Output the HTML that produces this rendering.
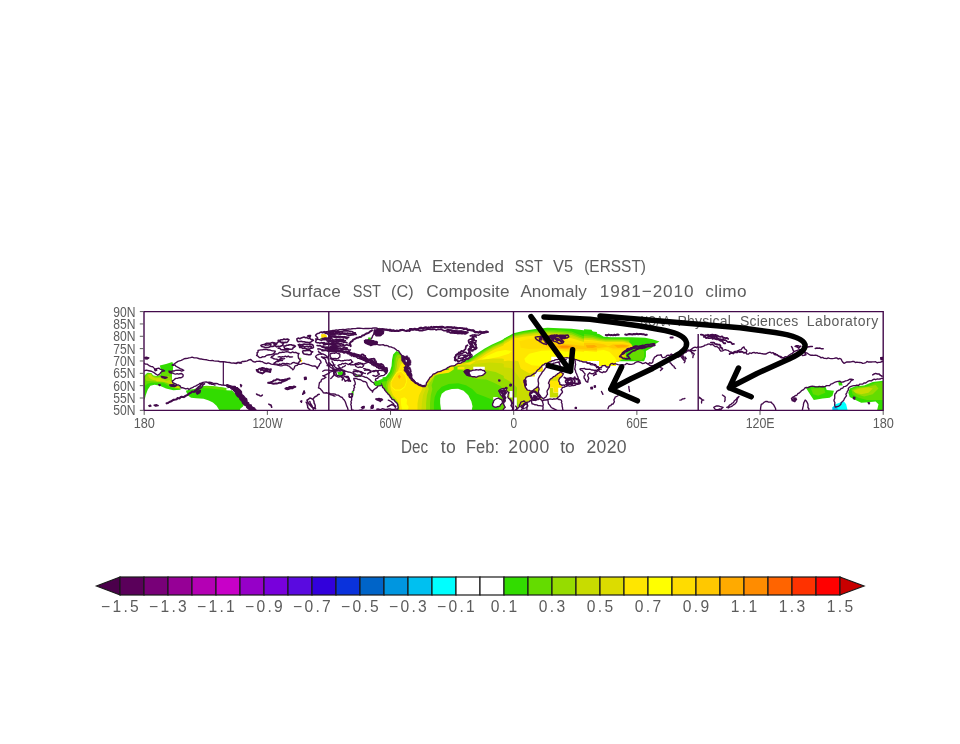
<!DOCTYPE html>
<html lang="en"><head><meta charset="utf-8"><title>NOAA Extended SST V5 (ERSST) composite anomaly</title>
<style>html,body{margin:0;padding:0;background:#fff}svg{display:block}text{font-family:"Liberation Sans",sans-serif;fill:#5c5c5c}</style></head><body>
<svg width="960" height="744" viewBox="0 0 960 744">
<rect width="960" height="744" fill="#fff"/>
<defs><clipPath id="fc"><rect x="144" y="312" width="739" height="98"/></clipPath></defs>
<g clip-path="url(#fc)">
<g transform="translate(140,340) scale(0.1041667)">
<path fill="#32dc00" d="M40,345 L60,325 L75,315 L110,318 L125,340 L160,345 L195,335 L205,300 L190,245 L250,230 L310,210 L320,235 L315,300 L305,345 L310,400 L335,435 L385,445 L390,478 L320,482 L250,465 L190,440 L140,430 L100,440 L75,475 L55,530 L45,570 L40,570 Z"/>
<path fill="#64dc00" d="M40,350 L70,322 L108,320 L125,342 L165,348 L200,340 L215,310 L260,300 L300,310 L305,345 L310,400 L335,435 L385,445 L388,470 L330,465 L280,445 L230,415 L170,410 L110,410 L70,420 L50,440 L40,450Z"/>
<path fill="#96dc00" d="M50,365 L72,328 L105,325 L125,348 L170,355 L230,350 L275,345 L298,360 L305,400 L330,435 L385,447 L385,465 L330,458 L290,435 L240,405 L170,400 L110,395 L60,392Z"/>
<path fill="#c8dc00" d="M75,335 L105,328 L120,352 L150,368 L200,365 L250,390 L285,385 L300,400 L325,435 L380,450 L380,462 L335,455 L300,435 L270,412 L220,400 L160,392 L120,382 L90,365Z"/>
<path fill="#dcdc00" d="M155,385 L190,385 L195,396 L160,398Z M292,395 L305,405 L320,437 L372,452 L372,460 L335,452 L308,430Z"/>
<path fill="#32dc00" d="M440,488 L470,478 L520,470 L560,455 L600,445 L640,440 L700,445 L760,450 L830,460 L880,480 L920,520 L960,560 L960,680 L765,680 L735,630 L700,600 L660,580 L610,565 L540,560 L490,555 L470,540 L450,510Z"/>
<path fill="#64dc00" d="M600,450 L640,442 L700,445 L760,452 L825,462 L830,485 L780,478 L720,470 L660,462 L620,462Z"/>
<path fill="#fff" d="M828,462 L875,470 L878,485 L830,482Z"/>
</g>

<g transform="translate(235,308) scale(0.143885)">
<path fill="#32dc00" d="M0,610 L25,615 L50,640 L70,660 L55,685 L30,705 L0,705Z"/>
<path fill="#ffdc00" d="M598,182 L625,180 L640,195 L635,208 L600,206Z"/>
<path fill="#64dc00" d="M588,208 L610,210 L600,225Z M448,342 L462,350 L458,362Z"/>
<path fill="#ffdc00" d="M452,358 L468,362 L462,378 L450,372Z"/>
</g>

<clipPath id="lsc"><rect x="360" y="300" width="74" height="120"/></clipPath>
<path fill="#32dc00" fill-rule="evenodd" transform="translate(380,325) scale(0.156250)" d="M105,167 L84,188 L77,222 L74,263 L63,298 L39,329 L12,346 L-23,360 L-40,367 L-40,384 L5,387 L32,415 L53,449 L87,477 L111,504 L118,552 L860,552 L860,49 L860,55 L817,77 L771,101 L717,124 L670,151 L616,186 L562,224 L400,235 L200,210Z M385,470 L395,440 L420,420 L460,410 L500,408 L535,420 L565,450 L585,490 L592,520 L585,556 L392,556 L385,500Z"/>
<path fill="#32dc00" fill-rule="evenodd" transform="translate(505,320) scale(0.120963)" d="M-10,155 L70,110 L150,90 L250,75 L350,65 L450,68 L550,72 L650,85 L760,100 L760,500 L300,500 L300,760 L-10,760Z"/>
<path fill="#32dc00" fill-rule="evenodd" transform="translate(585,320) scale(0.093747)" d="M-10,100 L70,105 L90,140 L150,150 L200,180 L280,185 L500,185 L640,190 L720,205 L795,230 L750,255 L720,290 L650,330 L650,390 L630,440 L330,440 L330,490 L150,490 L150,432 L-10,432Z"/>
<path fill="#32dc00" fill-rule="evenodd" transform="translate(775,308) scale(0.143740)" d="M215,555 L240,545 L350,545 L360,570 L410,575 L400,610 L380,625 L330,630 L270,640 L250,610 L230,580Z M440,515 L465,515 L470,540 L445,540Z"/>
<path fill="#32dc00" fill-rule="evenodd" transform="translate(775,308) scale(0.143740)" d="M520,560 L560,545 L620,540 L680,515 L760,505 L760,712 L710,712 L720,670 L700,650 L650,655 L600,660 L560,640 L520,620 L510,590Z"/>
<path fill="#64dc00" fill-rule="evenodd" transform="translate(380,325) scale(0.156250)" d="M108,177 L93,202 L89,236 L84,270 L74,305 L53,336 L32,353 L12,367 L19,394 L39,422 L60,453 L91,477 L113,504 L120,552 L345,552 L345,500 L350,460 L365,425 L395,395 L440,378 L500,372 L550,385 L590,410 L620,440 L660,455 L700,470 L730,480 L760,500 L760,552 L860,552 L860,55 L863,61 L820,83 L774,107 L720,130 L673,157 L619,192 L565,230 L400,235 L200,210Z"/>
<path fill="#64dc00" fill-rule="evenodd" transform="translate(505,320) scale(0.120963)" d="M-10,165 L70,122 L150,102 L250,88 L350,80 L450,85 L550,95 L600,115 L650,135 L700,150 L760,155 L760,500 L300,500 L300,760 L-10,760Z"/>
<path fill="#64dc00" fill-rule="evenodd" transform="translate(585,320) scale(0.093747)" d="M-10,150 L80,160 L150,185 L220,198 L400,200 L480,210 L440,330 L360,440 L330,440 L330,490 L150,490 L150,432 L-10,432Z M500,320 L580,300 L630,330 L630,400 L600,430 L520,430 L470,400Z"/>
<path fill="#64dc00" fill-rule="evenodd" transform="translate(775,308) scale(0.143740)" d="M250,560 L340,555 L350,590 L300,610 L265,600Z"/>
<path fill="#64dc00" fill-rule="evenodd" transform="translate(775,308) scale(0.143740)" d="M530,565 L570,550 L640,545 L700,520 L760,515 L760,640 L700,640 L640,640 L580,625 L540,600Z"/>
<path fill="#96dc00" fill-rule="evenodd" transform="translate(380,325) scale(0.156250)" d="M113,191 L101,215 L98,250 L93,284 L84,312 L67,339 L46,360 L39,387 L46,422 L63,453 L94,477 L116,504 L122,552 L320,552 L320,500 L325,450 L335,410 L330,385 L350,330 L430,280 L490,265 L530,290 L570,330 L620,345 L680,348 L730,370 L770,390 L800,420 L800,552 L860,552 L860,61 L866,67 L823,89 L777,113 L723,136 L676,163 L622,198 L568,236 L400,235 L200,210Z"/>
<path fill="#96dc00" fill-rule="evenodd" transform="translate(505,320) scale(0.120963)" d="M-10,172 L70,130 L150,111 L250,98 L350,92 L450,98 L550,110 L600,130 L650,150 L700,162 L760,166 L760,500 L300,500 L300,760 L-10,760 Z"/>
<path fill="#96dc00" fill-rule="evenodd" transform="translate(505,320) scale(0.120963)" d="M100,600 L230,590 L240,700 L100,700Z"/>
<path fill="#96dc00" fill-rule="evenodd" transform="translate(585,320) scale(0.093747)" d="M-10,170 L80,178 L150,198 L220,208 L400,210 L470,222 L430,330 L360,440 L330,440 L330,490 L150,490 L150,432 L-10,432Z"/>
<path fill="#96dc00" fill-rule="evenodd" transform="translate(775,308) scale(0.143740)" d="M535,570 L580,555 L650,548 L700,535 L720,560 L680,600 L620,615 L570,600Z"/>
<path fill="#c8dc00" fill-rule="evenodd" transform="translate(380,325) scale(0.156250)" d="M120,212 L111,236 L107,270 L100,298 L89,322 L74,346 L56,367 L50,394 L53,422 L70,453 L98,477 L118,504 L123,552 L295,552 L295,500 L300,450 L312,410 L305,388 L350,325 L430,275 L500,262 L540,280 L600,285 L680,290 L740,300 L800,330 L860,345 L860,67 L869,73 L826,95 L780,119 L726,142 L679,169 L625,204 L571,242 L400,235 L200,210Z"/>
<path fill="#c8dc00" fill-rule="evenodd" transform="translate(505,320) scale(0.120963)" d="M-10,180 L70,138 L150,120 L250,108 L350,103 L450,110 L550,125 L600,143 L650,162 L700,172 L760,176 L760,500 L300,500 L300,700 L110,700 L95,640 L100,560 L60,520 L-10,480Z"/>
<path fill="#c8dc00" fill-rule="evenodd" transform="translate(505,320) scale(0.120963)" d="M370,560 L400,560 L400,600 L440,600 L440,640 L370,640Z"/>
<path fill="#c8dc00" fill-rule="evenodd" transform="translate(585,320) scale(0.093747)" d="M-10,190 L80,196 L150,210 L220,218 L400,220 L470,235 L520,290 L430,340 L440,400 L360,440 L330,440 L330,490 L150,490 L150,432 L-10,432Z"/>
<path fill="#c8dc00" fill-rule="evenodd" transform="translate(775,308) scale(0.143740)" d="M545,575 L590,560 L650,552 L680,560 L650,590 L600,600 L560,590Z"/>
<path fill="#dcdc00" fill-rule="evenodd" transform="translate(380,325) scale(0.156250)" d="M127,233 L120,257 L113,284 L105,305 L93,325 L77,353 L63,374 L60,401 L63,425 L77,453 L101,477 L120,504 L125,552 L265,552 L268,500 L275,450 L290,415 L290,392 L350,320 L430,270 L510,258 L600,250 L700,240 L780,245 L860,275 L860,73 L872,79 L829,101 L783,125 L729,148 L682,175 L628,210 L574,248 L400,235 L200,210Z"/>
<path fill="#dcdc00" fill-rule="evenodd" transform="translate(505,320) scale(0.120963)" d="M-10,190 L70,146 L150,129 L250,118 L350,114 L450,122 L550,138 L600,155 L650,172 L700,182 L760,186 L760,500 L300,500 L300,560 L200,600 L150,560 L120,480 L60,400 L-10,390Z"/>
<path fill="#dcdc00" fill-rule="evenodd" transform="translate(585,320) scale(0.093747)" d="M-10,200 L80,206 L150,220 L220,226 L400,228 L480,245 L510,285 L430,335 L420,395 L360,440 L330,440 L330,490 L150,490 L150,432 L-10,432Z"/>
<path fill="#ffe600" fill-rule="evenodd" transform="translate(380,325) scale(0.156250)" d="M135,250 L125,270 L116,291 L105,312 L91,336 L74,360 L67,387 L70,415 L84,449 L108,477 L123,504 L129,552 L240,552 L240,500 L250,450 L265,420 L275,395 L350,315 L430,265 L520,255 L600,230 L700,215 L780,215 L860,235 L860,79 L875,86 L832,108 L786,132 L732,155 L685,182 L631,217 L577,255 L400,235 L200,210Z"/>
<path fill="#ffe600" fill-rule="evenodd" transform="translate(380,325) scale(0.156250)" d="M330,300 L345,300 L345,288 L440,288 L440,268 L472,268 L472,285 L440,306 L345,320 L330,320Z M496,268 L540,268 L540,284 L496,284Z"/>
<path fill="#ffe600" fill-rule="evenodd" transform="translate(505,320) scale(0.120963)" d="M-10,200 L70,155 L150,138 L250,128 L350,125 L450,134 L550,150 L600,166 L650,182 L700,192 L760,196 L760,500 L300,500 L300,420 L200,440 L130,400 L110,340 L60,330 L-10,340Z M370,470 L470,470 L470,560 L440,560 L440,600 L400,600 L400,560 L370,560Z"/>
<path fill="#ffe600" fill-rule="evenodd" transform="translate(585,320) scale(0.093747)" d="M-10,212 L80,216 L150,228 L220,234 L400,236 L490,255 L500,285 L420,330 L380,395 L360,440 L330,440 L330,490 L150,490 L150,432 L-10,432Z"/>
<g clip-path="url(#lsc)"><path fill="#ffff00" fill-rule="evenodd" transform="translate(370,335) scale(0.107527)" d="M215,395 L250,345 L292,335 L335,375 L345,430 L325,485 L285,515 L232,515 L195,482 L192,440Z M285,590 L320,580 L345,600 L340,640 L360,670 L350,700 L300,700 L290,650Z"/></g>
<path fill="#ffff00" fill-rule="evenodd" transform="translate(380,325) scale(0.156250)" d="M647,221 L694,194 L748,169 L802,160 L845,166 L825,184 L763,203 L694,217Z"/>
<path fill="#ffff00" fill-rule="evenodd" transform="translate(505,320) scale(0.120963)" d="M160,320 L200,280 L300,255 L420,250 L500,262 L600,258 L700,268 L760,272 L760,340 L380,340 L380,370 L300,380 L220,375 L170,350Z"/>
<path fill="#ffff00" fill-rule="evenodd" transform="translate(585,320) scale(0.093747)" d="M-10,330 L100,330 L200,320 L260,340 L320,400 L340,440 L330,440 L330,490 L150,490 L150,432 L-10,432Z"/>
<g clip-path="url(#lsc)"><path fill="#ffdc00" fill-rule="evenodd" transform="translate(370,335) scale(0.107527)" d="M220,400 L252,352 L290,342 L328,380 L338,430 L320,480 L282,508 L235,508 L200,478 L198,440Z"/></g>
<path fill="#ffdc00" fill-rule="evenodd" transform="translate(505,320) scale(0.120963)" d="M120,175 L200,158 L300,150 L400,152 L500,165 L600,185 L700,205 L760,210 L760,262 L700,258 L600,250 L500,255 L420,240 L300,235 L200,240 L130,230Z"/>
<path fill="#ffdc00" fill-rule="evenodd" transform="translate(585,320) scale(0.093747)" d="M-10,225 L100,228 L200,240 L300,240 L420,244 L500,265 L470,300 L400,320 L300,322 L240,300 L160,310 L60,320 L-10,318Z"/>
<path fill="#ffc800" fill-rule="evenodd" transform="translate(505,320) scale(0.120963)" d="M330,200 L420,192 L520,198 L620,210 L700,220 L760,225 L760,250 L700,245 L600,240 L500,245 L420,232 L350,225Z"/>
<path fill="#ffc800" fill-rule="evenodd" transform="translate(585,320) scale(0.093747)" d="M-10,245 L100,245 L200,258 L250,280 L300,258 L420,258 L480,272 L440,300 L380,305 L300,305 L240,285 L150,300 L60,305 L-10,300Z"/>
<g clip-path="url(#lsc)"><path fill="#ffaa00" fill-rule="evenodd" transform="translate(370,335) scale(0.107527)" d="M258,385 L272,368 L288,388 L272,410Z"/></g>
<path fill="#ffaa00" fill-rule="evenodd" transform="translate(505,320) scale(0.120963)" d="M420,215 L480,205 L560,212 L580,225 L520,238 L450,236Z"/>
<path fill="#ffaa00" fill-rule="evenodd" transform="translate(585,320) scale(0.093747)" d="M10,270 L100,268 L130,285 L80,298 L20,295Z M310,270 L400,265 L470,275 L430,292 L350,295Z"/>
<path fill="#ff8c00" fill-rule="evenodd" transform="translate(505,320) scale(0.120963)" d="M450,218 L500,212 L545,218 L520,230 L470,230Z"/>
<path fill="#00ffff" fill-rule="evenodd" transform="translate(775,308) scale(0.143740)" d="M400,690 L420,670 L450,660 L480,650 L495,670 L505,712 L400,712Z"/>
<path fill="#00c0f0" fill-rule="evenodd" transform="translate(775,308) scale(0.143740)" d="M400,690 L425,680 L440,712 L400,712Z"/>
<g fill="none" stroke="#430a4b" stroke-width="1.1" stroke-linejoin="round" stroke-linecap="round">
<path transform="translate(325,308) scale(0.143885)" fill="#fff" fill-rule="evenodd" stroke-width="9.38" d="M185,712 L185,702 L183,691 L183,681 L179,671 L183,660 L180,650 L185,641 L185,630 L183,619 L188,610 L190,600 L191,590 L193,580 L201,571 L200,560 L206,551 L201,539 L210,531 L210,520 L207,510 L202,500 L200,490 L210,490 L220,491 L230,496 L240,497 L250,500 L259,506 L269,511 L281,512 L290,520 L293,531 L297,542 L302,552 L310,560 L316,569 L326,574 L330,585 L334,574 L341,567 L350,560 L362,552 L370,540 L379,534 L390,530 L397,539 L400,552 L410,559 L415,570 L423,580 L432,590 L440,600 L449,606 L453,617 L460,625 L466,635 L479,638 L485,648 L497,658 L505,670 L506,680 L509,691 L505,702 L505,712 L495,709 L485,711 L475,712 L465,709 L455,715 L445,711 L435,713 L425,711 L415,715 L405,710 L395,715 L385,715 L375,710 L365,708 L355,713 L345,713 L335,714 L325,714 L315,711 L305,715 L295,715 L285,712 L275,715 L265,711 L255,709 L245,710 L235,712 L225,713 L215,713 L205,716 L195,710Z"/>
<path transform="translate(325,308) scale(0.143885)" fill="#fff" fill-rule="evenodd" stroke-width="9.38" d="M320,360 L328,366 L336,372 L342,381 L352,384 L360,390 L370,395 L380,401 L391,403 L400,410 L407,416 L414,422 L421,428 L430,432 L431,444 L425,455 L417,461 L410,468 L400,470 L389,471 L380,475 L370,480 L366,489 L354,491 L350,500 L355,508 L364,511 L372,516 L380,520 L388,526 L392,535 L382,541 L371,538 L360,540 L351,536 L345,528 L340,520 L331,516 L322,511 L316,502 L308,496 L300,490 L291,483 L280,482 L270,477 L260,474 L250,470 L240,467 L230,466 L220,466 L211,458 L200,460 L191,452 L181,449 L171,446 L159,445 L150,440 L139,440 L130,437 L119,436 L110,430 L107,421 L99,415 L97,406 L90,400 L100,394 L112,393 L120,385 L130,389 L140,384 L150,386 L160,393 L170,391 L180,396 L190,393 L200,395 L210,390 L220,394 L230,393 L240,388 L250,385 L260,386 L270,390 L280,385 L289,382 L294,372 L303,368 L310,362Z"/>
<path transform="translate(380,325) scale(0.156250)" fill="#fff" fill-rule="evenodd" stroke-width="8.64" d="M-35,34 L-23,35 L-11,31 L0,28 L10,31 L20,33 L30,29 L40,33 L50,33 L60,37 L70,38 L80,37 L90,34 L100,38 L110,36 L121,38 L130,30 L141,31 L151,31 L160,37 L170,34 L180,35 L190,31 L200,30 L211,33 L220,26 L230,25 L240,25 L250,22 L260,24 L270,21 L280,17 L290,20 L300,15 L310,15 L320,18 L330,15 L340,18 L350,13 L360,16 L370,10 L380,12 L390,9 L400,9 L410,15 L420,17 L430,12 L440,12 L450,15 L460,12 L470,18 L480,16 L490,15 L500,20 L510,20 L520,20 L530,22 L541,21 L550,27 L560,28 L570,30 L580,32 L591,33 L599,42 L609,45 L620,45 L630,47 L640,49 L650,46 L660,44 L670,42 L680,46 L690,45 L680,48 L670,51 L659,50 L649,54 L640,60 L631,66 L619,63 L611,73 L600,71 L590,75 L596,87 L600,100 L593,106 L587,113 L585,122 L580,130 L586,137 L597,137 L602,146 L610,150 L601,158 L590,160 L581,166 L570,170 L578,176 L578,186 L588,191 L590,200 L581,207 L571,213 L560,215 L552,219 L546,226 L540,233 L530,235 L521,242 L511,245 L500,246 L490,250 L481,258 L471,262 L460,262 L449,265 L440,270 L430,275 L421,283 L411,286 L400,290 L391,296 L381,298 L370,300 L360,306 L351,312 L340,315 L335,323 L328,330 L320,335 L316,344 L310,351 L305,360 L297,371 L295,385 L285,386 L275,390 L265,387 L254,387 L245,380 L234,374 L225,365 L219,356 L211,349 L205,340 L200,328 L190,320 L186,311 L176,308 L170,300 L166,290 L162,281 L160,270 L166,258 L170,245 L161,239 L155,229 L150,220 L148,206 L140,195 L132,186 L125,175 L119,165 L108,162 L100,155 L91,148 L80,145 L70,140 L59,140 L50,133 L40,130 L30,132 L20,126 L10,127 L0,128 L-10,127 L-20,123 L-30,125 L-40,125 L-51,124 L-60,131 L-67,124 L-77,121 L-84,114 L-90,105 L-99,101 L-90,95 L-78,99 L-71,89 L-60,90 L-53,84 L-49,76 L-46,67 L-40,60 L-37,47Z"/>
<path transform="translate(440,325) scale(0.120963)" fill="#fff" fill-rule="evenodd" stroke="none" d="M275,345 L370,345 L370,378 L275,378Z M440,595 L480,595 L480,625 L440,625Z M575,545 L600,545 L600,600 L575,600Z M609,600 L635,600 L635,712 L609,712Z"/>
<path transform="translate(440,325) scale(0.120963)" fill="#fff" fill-rule="evenodd" stroke-width="11.16" d="M200,385 L208,380 L216,374 L225,370 L239,372 L250,380 L260,379 L270,374 L280,373 L290,372 L300,370 L310,371 L320,372 L330,368 L342,370 L353,376 L365,375 L369,385 L378,392 L370,402 L360,410 L351,416 L341,419 L330,420 L319,422 L310,427 L300,432 L290,428 L280,427 L270,428 L260,424 L250,422 L240,420 L231,418 L222,415 L215,408 L212,399 L206,392Z"/>
<path transform="translate(440,325) scale(0.120963)" fill="#fff" fill-rule="evenodd" stroke-width="11.16" d="M485,545 L492,537 L501,533 L510,529 L520,525 L532,527 L543,522 L555,520 L548,532 L545,545 L555,547 L562,555 L570,560 L564,569 L563,580 L560,590 L562,599 L567,607 L576,612 L580,620 L588,625 L588,636 L597,641 L600,650 L606,659 L603,670 L607,680 L602,690 L600,701 L600,712 L590,708 L580,714 L570,715 L560,715 L550,708 L540,715 L530,715 L520,712 L522,702 L527,694 L532,686 L540,680 L534,671 L528,661 L525,650 L529,639 L538,632 L540,620 L531,615 L528,605 L520,600 L515,590 L507,583 L500,575 L496,565 L492,554Z M435,650 L441,640 L443,629 L450,620 L459,614 L469,608 L480,605 L490,608 L499,615 L510,615 L512,625 L517,634 L515,645 L508,653 L500,660 L495,670 L485,674 L474,675 L465,680 L452,679 L440,672 L434,662Z"/>
<path transform="translate(510,355) scale(0.093747)" fill="#fff" fill-rule="evenodd" stroke="none" d="M150,270 L170,240 L210,225 L250,205 L280,180 L310,150 L340,115 L380,90 L420,75 L440,70 L440,20 L500,20 L520,45 L570,35 L620,30 L680,40 L720,55 L760,65 L950,65 L950,600 L60,600 L90,560 L120,545 L150,520 L180,505 L215,490 L225,450 L215,415 L235,395 L265,390 L285,405 L300,430 L320,450 L320,470 L345,490 L400,475 L480,470 L500,465 L520,445 L540,420 L560,395 L545,370 L560,345 L600,335 L650,330 L700,320 L730,300 L690,305 L590,318 L555,325 L530,310 L520,280 L530,250 L555,225 L570,200 L545,180 L520,195 L490,215 L455,240 L425,265 L410,300 L420,330 L410,360 L395,390 L400,420 L385,445 L355,470 L335,450 L320,430 L305,400 L310,370 L300,340 L275,355 L250,375 L220,385 L190,375 L165,350 L155,310Z M175,230 L265,230 L265,180 L350,180 L350,120 L300,160 L250,205 L200,228Z"/>
<path transform="translate(325,308) scale(0.143885)" fill="#32dc00" fill-rule="evenodd" stroke="none" d="M340,510 L385,505 L392,535 L350,542Z M85,445 L125,440 L130,465 L95,470Z M400,482 L428,480 L430,508 L405,510Z M212,466 L250,466 L250,480 L212,480Z M186,578 L198,578 L198,608 L186,608Z M365,140 L380,138 L380,160 L368,160Z M300,205 L318,205 L318,222 L302,222Z"/>
<path transform="translate(322,322) scale(0.083333)" fill="none" fill-rule="evenodd" stroke-width="16.20" d="M0,130 L18,123 L38,121 L56,115 L75,112 L94,110 L113,107 L131,100 L150,100 L170,94 L190,99 L210,92 L230,92 L253,88 L277,91 L300,85 L320,84 L340,85 L360,81 L380,80 L403,79 L426,74 L450,75 L473,77 L497,80 L520,78 L540,77 L560,78 L580,77 L600,75 L625,70 L650,72 L675,79 L700,82 L720,86 L740,87 L760,92 L781,92 L800,100 L825,107 L850,108 L875,106 L900,105 L920,103 L940,101 L960,95"/>
<path transform="translate(322,322) scale(0.083333)" fill="none" fill-rule="evenodd" stroke-width="19.20" d="M80,125 L96,120 L113,117 L130,119 L146,114 L163,111 L180,115 L197,112 L215,117 L232,114 L249,112 L265,105 L283,107 L300,105 L317,107 L334,110 L351,113 L367,118 L382,131 L400,130 M100,150 L117,153 L134,151 L150,150 L166,142 L183,142 L200,145 L217,145 L234,145 L250,140 L265,148 L283,143 L298,153 L314,158 L330,160 L346,158 L362,152 L378,154 L393,147 L410,150 M90,175 L109,179 L127,178 L145,173 L163,169 L182,176 L200,170 L217,173 L234,179 L251,181 L269,179 L286,180 L303,184 L320,185 M0,200 L17,198 L35,193 L52,194 L70,195 L85,203 L103,198 L119,202 L134,212 L150,215 L168,211 L187,212 L205,210 L223,206 L242,213 L260,205 M120,240 L137,236 L154,238 L171,234 L189,239 L206,234 L223,234 L240,235 L259,243 L281,243 L300,250 M0,250 L20,254 L39,261 L60,260 L81,259 L101,261 L120,270 L136,265 L152,270 L168,267 L184,260 L200,262 M100,290 L117,287 L134,285 L151,287 L168,282 L186,289 L203,290 L220,285 L238,289 L255,285 L272,286 L288,274 L306,275 L323,282 L340,275 M0,300 L16,305 L32,303 L47,311 L64,309 L80,310 L97,313 L113,306 L130,304 L147,306 L163,301 L180,305 M120,330 L136,328 L153,334 L169,326 L185,322 L201,321 L217,322 L234,329 L250,325 L268,325 L286,326 L305,326 L321,339 L340,335 M0,345 L19,343 L37,339 L56,336 L75,340 L93,338 L110,342 L126,351 L144,348 L160,355 L177,349 L194,354 L211,350 L228,359 L245,348 L262,352 L279,355 L296,350 L313,356 L330,350"/>
<path transform="translate(322,322) scale(0.083333)" fill="none" fill-rule="evenodd" stroke-width="21.60" d="M90,135 L105,129 L122,136 L137,134 L153,137 L168,127 L184,126 L200,128 L215,133 L230,133 L245,130 L260,137 L275,134 L290,141 L306,133 L320,140 L336,136 L352,146 L368,138 L384,137 L400,140 M85,160 L99,169 L114,172 L132,170 L145,181 L160,185 L176,186 L192,178 L208,184 L224,176 L240,180 L256,183 L272,184 L286,191 L300,200 M60,225 L75,232 L90,224 L105,232 L120,224 L135,227 L150,230 L165,228 L180,225 L194,220 L209,226 L223,227 L237,221 L251,219 L266,230 L280,225 M20,275 L35,272 L49,265 L65,266 L79,260 L96,265 L110,258 L124,249 L140,252 L154,259 L171,251 L185,256 L201,254 L215,267 L231,260 L245,268 L260,270 M40,320 L55,314 L70,319 L85,322 L100,319 L115,318 L130,318 L145,317 L160,318 L174,319 L188,311 L202,316 L216,312 L230,320 L244,321 L258,308 L272,308 L286,315 L300,312"/>
<path transform="translate(322,322) scale(0.083333)" fill="none" fill-rule="evenodd" stroke-width="24.00" d="M600,100 L586,109 L572,118 L560,130 L544,135 L528,141 L514,150 L500,160 L483,162 L472,177 L455,179 L440,185 L422,188 L406,197 L390,205 L374,212 L366,228 L350,235 L340,248 L330,260 L340,274 L345,290"/>
<path transform="translate(322,322) scale(0.083333)" fill="#430a4b" fill-rule="evenodd" stroke-width="16.20" d="M630,100 L644,101 L658,101 L672,97 L686,94 L700,95 L715,96 L726,106 L740,110 L738,125 L735,140 L722,147 L712,157 L700,165 L683,163 L667,167 L650,165 L639,151 L625,140 L629,120Z M510,225 L527,221 L543,219 L560,215 L575,219 L590,218 L605,223 L620,225 L634,232 L651,233 L665,240 L660,262 L640,263 L620,268 L604,274 L590,282 L574,273 L556,270 L540,262 L524,256 L512,245Z"/>
<path transform="translate(322,322) scale(0.083333)" fill="none" fill-rule="evenodd" stroke-width="31.20" stroke-dasharray="40 6 25 5" d="M80,335 L92,334 L105,333 L116,342 L129,335 L140,343 L152,342 L165,339 L176,347 L189,342 L200,350 L213,351 L227,348 L240,351 L252,358 L264,366 L279,358 L292,362 L304,369 L316,376 L330,372 L343,377 L356,379 L367,390 L383,382 L393,397 L408,393 L420,400 L434,400 L447,405 L458,413 L470,420 L481,429 L497,426 L507,436 L520,440 L531,447 L545,448 L556,456 L570,454 L580,465 L596,465 L608,473 L620,482 L632,492 L647,496 L660,505 L675,511 L686,523 L700,530 L714,538 L728,544 L740,555 L751,567 L765,574 L780,580"/>
<path transform="translate(322,322) scale(0.083333)" fill="none" fill-rule="evenodd" stroke-width="15.60" d="M330,395 L344,396 L354,409 L370,404 L381,414 L396,412 L408,418 L420,425 L429,435 L444,432 L454,442 L466,445 L477,449 L489,455 L500,460 L513,462 L521,474 L536,470 L547,477 L559,480 L570,487 L580,495 L592,501 L601,513 L616,514 L629,518 L640,526 L650,535 L660,547 L677,543 L687,555 L700,560 M300,360 L313,362 L325,368 L338,367 L349,375 L363,376 L375,380 L386,387 L400,385 L411,390 L424,389 L436,392 L444,406 L457,404 L470,405 L480,412"/>
<path transform="translate(322,322) scale(0.083333)" fill="none" fill-rule="evenodd" stroke-width="16.20" d="M100,380 L112,378 L124,375 L135,370 L149,376 L160,370 L173,368 L185,375 L197,381 L210,380 L216,393 L213,407 L215,420 L203,426 L194,437 L180,440 L168,441 L156,438 L144,440 L132,438 L120,440 L110,432 L104,421 L100,410 L96,395Z M100,440 L112,444 L123,452 L136,453 L147,459 L160,460 L173,459 L185,464 L198,458 L210,460 L222,465 L235,466 L248,464 L260,465 L272,459 L285,460 L298,458 L311,457 L325,461 L337,453 L350,455 L357,470 L370,480 L355,483 L345,497 L330,500 M400,500 L412,497 L424,496 L435,489 L448,491 L460,490 L468,501 L482,502 L489,513 L500,520 L493,535 L480,545 L468,543 L456,539 L444,545 L432,546 L420,540 L407,533 L400,520Z M120,470 L125,483 L134,493 L139,506 L140,520 L150,530 L157,543 L171,549 L180,560 L192,557 L204,557 L215,550 L228,553 L240,550 L248,540 L261,536 L273,531 L280,520 M500,560 L513,559 L524,567 L536,570 L549,569 L560,575 L574,578 L585,590 L600,590 M620,585 L634,589 L646,580 L660,585 L674,586 L687,578 L700,580 L712,583 L725,579 L736,585 L748,590 L760,590 M0,420 L9,428 L18,437 L32,439 L40,450 L46,462 L47,476 L54,488 L60,500 L70,510 L81,519 L87,533 L100,540 L110,549 L123,552 L128,566 L141,571 L150,580 L164,581 L178,581 L192,585 L206,586 L220,590"/>
<path transform="translate(325,308) scale(0.143885)" fill="none" fill-rule="evenodd" stroke-width="16.68" d="M330,375 L338,380 L345,386 L353,391 L364,393 L370,400 L380,402 L387,409 L395,413 L401,422 L410,425 L414,434 L419,442 L425,450"/>
<path transform="translate(325,308) scale(0.143885)" fill="none" fill-rule="evenodd" stroke-width="9.38" d="M60,430 L70,426 L80,426 L90,424 L100,420 L106,427 L116,428 L123,434 L130,440 L129,451 L125,461 L120,470 L110,472 L101,479 L90,480 L83,475 L74,471 L67,466 L60,460 L60,450 L62,440Z M120,480 L130,479 L140,475 L150,475 L160,475 L167,487 L170,500 L159,501 L149,505 L140,510 L137,501 L132,494 L126,487Z M25,590 L36,595 L48,597 L60,598 L70,599 L80,605 L90,605 L100,611 L109,618 L120,622 L126,632 L134,640 L140,650 L144,660 L147,670 L150,680 L156,692 L160,705 M25,380 L35,385 L40,395 L50,400 L54,408 L58,417 L64,423 L70,430 L67,440 L64,450 L65,461 L60,470 L53,476 L47,484 L40,490 M200,430 L210,431 L220,433 L230,438 L240,440 L251,442 L260,447 L270,452 L280,455 M355,635 L365,631 L375,628 L388,631 L400,638 L390,642 L380,645 L367,641Z M440,640 L448,644 L456,648 L463,654 L470,660 L477,666 L479,676 L483,684 L490,690 M360,703 L369,702 L379,704 L388,706 L397,700 L407,701 L416,705 L425,705 L435,704 L444,701 L453,702 L463,705 L472,705 L481,705 L491,701 L500,703"/>
<path transform="translate(325,308) scale(0.143885)" fill="#430a4b" fill-rule="evenodd" stroke-width="9.38" d="M320,685 L330,685 L330,697 L320,697Z M260,688 L270,684 L272,694 L262,698Z M160,498 L170,498 L170,508 L160,508Z"/>
<path transform="translate(380,325) scale(0.156250)" fill="none" fill-rule="evenodd" stroke-width="10.24" d="M190,25 L200,24 L210,29 L220,30 L230,31 L240,30 L250,36 L260,35 L270,36 L280,33 L290,32 L300,29 L310,26 L320,28 L330,28 L340,29 L350,26 L360,32 L370,28 L380,29 L390,28 L400,32 L410,37 L420,36 L430,38 L440,37 L450,34 L460,37 L470,40 L480,41 L490,38 L500,46 L510,42 L520,41 L530,47 L540,45 M430,45 L440,43 L450,51 L460,49 L470,51 L480,51 L490,53 L500,55 L510,52 L520,50 L530,55 L540,50 L550,53 L560,50"/>
<path transform="translate(380,325) scale(0.156250)" fill="none" fill-rule="evenodd" stroke-width="11.52" stroke-dasharray="30 5 18 4" d="M600,80 L590,84 L591,98 L586,106 L575,110 L575,121 L588,123 L594,130 L595,140 L586,143 L581,152 L570,151 L565,160 L572,166 L568,177 L578,182 L580,190 L571,193 L560,193 L553,199 L545,205 L536,206 L531,213 L530,224 L520,225 M560,130 L551,135 L549,144 L547,154 L540,160 L534,168 L522,166 L515,174 L505,176 L500,185 L492,189 L486,194 L484,203 L480,210 L483,218 L489,223 L497,227 L500,235 M590,105 L593,114 L604,113 L607,123 L615,125"/>
<path transform="translate(380,325) scale(0.156250)" fill="none" fill-rule="evenodd" stroke-width="16.64" stroke-dasharray="26 4 16 4" d="M145,200 L151,208 L158,212 L166,215 L175,215 L182,223 L179,233 L183,241 L185,250 L180,256 L178,265 L172,271 L165,275 L170,283 L177,290 L180,300 L185,306 L194,310 L198,316 L200,325"/>
<path transform="translate(440,325) scale(0.120963)" fill="#430a4b" fill-rule="evenodd" stroke-width="11.16" d="M200,385 L207,378 L216,374 L225,372 L235,376 L245,382 L241,391 L240,400 L247,408 L250,418 L241,418 L233,416 L225,412 L220,405 L212,400 L204,394Z"/>
<path transform="translate(440,325) scale(0.120963)" fill="none" fill-rule="evenodd" stroke-width="19.84" d="M495,550 L504,548 L513,546 L522,546 L530,540 L537,545 L539,554 L545,560 L536,562 L530,567 L528,577 L520,580 L526,588 L533,594 L540,600 L536,607 L528,613 L528,622 L525,630 M510,560 L519,565 L524,574 L535,575"/>
<path transform="translate(440,325) scale(0.120963)" fill="#430a4b" fill-rule="evenodd" stroke-width="11.16" d="M486,454 L496,456 L494,464 L486,462Z M580,490 L590,492 L588,502 L580,500Z M540,520 L548,516 L550,524Z"/>
<path transform="translate(140,340) scale(0.104167)" fill="#430a4b" fill-rule="evenodd" stroke-width="12.96" d="M45,170 L60,165 L85,172 L70,182 L50,180Z M205,350 L235,355 L260,360 L240,368 L215,362Z M278,298 L298,302 L300,315 L282,312Z M140,280 L158,278 L160,292 L145,295Z M85,630 L100,625 L105,635 L90,638Z M135,625 L160,622 L175,630 L150,635Z M540,505 L560,490 L580,485 L575,505 L550,520Z M180,428 L195,432 L188,438Z M285,432 L320,428 L345,440 L330,448 L295,442Z"/>
<path transform="translate(140,340) scale(0.104167)" fill="#430a4b" fill-rule="evenodd" stroke-width="12.96" d="M830,432 L844,430 L857,437 L870,440 L887,446 L905,445 L919,454 L935,458 L945,471 L960,480 L968,489 L975,500 L971,512 L975,524 L981,536 L976,549 L981,561 L969,573 L975,585 L960,570 L955,554 L940,545 L930,533 L921,520 L915,505 L911,493 L898,487 L895,475 L883,472 L873,465 L865,455 L850,454 L835,448Z"/>
<path transform="translate(140,340) scale(0.104167)" fill="none" fill-rule="evenodd" stroke-width="12.96" d="M40,225 L53,231 L68,232 L80,240 L92,249 L105,254 L120,255 L130,265 L140,275 L150,290 L160,275 L180,270 L192,279 L205,285 L221,288 L235,297 L215,300 L200,310 L190,325 L170,338 L150,325 L130,310 L110,300 L85,295 L60,290 L40,297"/>
<path transform="translate(140,340) scale(0.104167)" fill="none" fill-rule="evenodd" stroke-width="12.96" d="M310,240 L330,228 L350,215 L364,205 L380,200 L395,195 L410,188 L424,180 L440,178 L455,177 L470,172 L485,169 L500,165 L520,172 L545,172 L570,180 L585,182 L600,185 L620,188 L640,190 L660,195 L680,198 L695,196 L710,201 L725,203 L740,203 L755,204 L770,209 L785,209 L800,208 L820,211 L840,215 L860,216 L880,222 L900,221 L920,225 L940,215 L957,221 L975,222"/>
<path transform="translate(140,340) scale(0.104167)" fill="none" fill-rule="evenodd" stroke-width="12.96" d="M310,240 L323,244 L335,238 L345,252 L365,262 L385,275 L398,280 L410,285 L420,292 L400,298 L386,292 L370,290 L355,289 L340,292 L326,298 L310,298 L290,305 L300,318 L316,317 L330,325 L343,327 L357,323 L370,328 L385,324 L400,322 L415,335 L412,352 L395,362 L377,361 L360,368 L344,369 L330,378 L322,388 L310,392 L315,410 L335,418 L350,425 L345,438 L357,431 L370,432 L385,440 L395,458 L408,457 L420,462 L440,470 L460,465 L470,475 L490,462 L510,455 L520,445 L534,443 L545,435 L565,425 L576,416 L590,415 L604,407 L620,405 L635,403 L650,408 L665,404 L680,408 L700,415 L715,417 L730,418 L746,420 L760,428 L773,428 L786,433 L800,432 L815,436 L830,435"/>
<path transform="translate(140,340) scale(0.104167)" fill="none" fill-rule="evenodd" stroke-width="20.16" stroke-dasharray="55 8 30 10 40 6" d="M600,418 L588,424 L581,433 L575,445 L561,453 L550,465 L547,478 L540,488 L520,498 L500,495 L491,504 L480,510 L469,516 L460,525 L440,535 L420,548 L400,545 L388,550 L380,560 L360,558 L353,569 L340,572 L320,575 L300,588 L280,595 L269,604 L255,608"/>
<path transform="translate(140,340) scale(0.104167)" fill="none" fill-rule="evenodd" stroke-width="14.40" d="M620,420 L607,427 L600,440 L594,451 L585,460 L575,464 L566,468 L560,478 L545,470 L536,479 L525,485 M660,415 L669,421 L681,420 L690,425 L701,424 L710,428 L720,432"/>
<path transform="translate(140,340) scale(0.104167)" fill="none" fill-rule="evenodd" stroke-width="11.52" d="M800,208 L800,432"/>
<path transform="translate(235,308) scale(0.143885)" fill="none" fill-rule="evenodd" stroke-width="9.38" d="M0,385 L11,386 L20,379 L30,378 L41,379 L50,372 L60,372 L72,370 L85,368 L97,361 L110,358 L117,365 L125,372 L140,376 L149,371 L160,371 L170,370 L180,372 L191,373 L200,380 L210,384 L220,386 L230,381 L240,385 L252,390 L265,392 L277,394 L290,395 L300,397 L310,400 L320,402 L330,401 L340,396 L350,395 L360,397 L370,402 L380,405 L385,415 L395,420 L402,430 L409,423 L413,414 L415,405 L423,400 L433,398 L440,390 L451,392 L461,390 L470,385 L481,385 L490,389 L500,392 L511,393 L520,397 L530,400 L540,404 L550,403 L560,405 L567,413 L572,422 L576,410 L585,400 L589,388 L598,380 L596,370 L590,362 L581,355 L570,355 L568,346 L560,340 L565,330 L575,325 L587,321 L600,320 L613,320 L625,325 L633,332 L640,340 L647,349 L650,360"/>
<path transform="translate(235,308) scale(0.143885)" fill="none" fill-rule="evenodd" stroke-width="9.73" d="M150,330 L155,322 L153,312 L161,305 L160,295 L170,293 L180,291 L190,291 L200,288 L210,287 L220,288 L230,292 L240,291 L250,295 L260,298 L270,298 L280,300 L276,308 L270,315 L261,320 L251,324 L240,325 L229,327 L219,329 L210,337 L200,340 L190,339 L180,345 L170,345 L161,336Z M250,345 L256,337 L265,333 L272,326 L280,320 L291,320 L301,317 L309,309 L320,310 L330,306 L340,308 L350,305 L360,304 L370,305 L380,310 L390,311 L400,305 L410,310 L422,308 L433,314 L445,315 L439,327 L440,340 L442,350 L449,357 L455,365 L446,374 L440,385 L430,384 L420,383 L410,378 L400,380 L391,388 L380,390 L370,387 L360,386 L350,389 L340,385 L329,385 L321,393 L309,389 L300,395 L291,390 L280,389 L270,385 L280,378 L290,370 L300,373 L310,366 L320,364 L330,365 L320,362 L311,358 L299,362 L290,355 L280,355 L270,353 L260,347Z M300,340 L310,339 L320,342 L330,338 L340,340 L350,335 L360,340 L370,334 L380,341 L390,341 L400,340 M310,355 L321,351 L333,354 L345,352"/>
<path transform="translate(235,308) scale(0.143885)" fill="none" fill-rule="evenodd" stroke-width="11.12" d="M180,260 L190,256 L200,254 L210,250 L220,245 L230,245 L240,246 L250,243 L260,240 L271,241 L281,245 L290,250 L280,258 L270,265 L260,268 L249,266 L240,271 L230,275 L218,274 L206,273 L195,270 L186,267Z M270,250 L280,246 L292,243 L300,235 L310,234 L320,237 L330,238 L340,240 L334,250 L330,260 L320,264 L311,268 L300,266 L290,270 L282,264 L277,256Z M300,225 L311,226 L320,221 L331,221 L340,215 L351,219 L364,215 L375,220 L369,231 L360,240 L350,239 L340,240 L330,244 L320,240 L312,230Z M340,265 L350,264 L360,259 L370,258 L380,255 L391,255 L400,260 L411,260 L420,265 L412,271 L404,276 L400,285 L390,287 L380,287 L370,284 L360,282 L350,285 L343,276Z M210,258 L220,256 L230,257 L240,253 L250,255 M300,280 L311,280 L319,289 L330,290 L340,291 L350,292 L360,292 L370,292"/>
<path transform="translate(235,308) scale(0.143885)" fill="none" fill-rule="evenodd" stroke-width="11.12" d="M430,215 L439,209 L451,213 L460,209 L470,205 L480,202 L490,207 L500,206 L510,212 L520,210 L527,217 L537,219 L545,225 L536,229 L528,235 L520,240 L510,240 L500,238 L490,237 L480,235 L470,235 L460,231 L450,233 L440,235 L432,227Z M440,255 L450,253 L460,256 L470,253 L480,250 L490,252 L500,253 L510,254 L520,251 L530,253 L540,255 L544,265 L545,275 L537,279 L527,278 L519,285 L510,286 L500,285 L490,281 L481,278 L470,281 L461,274 L450,275 L447,264Z M505,195 L515,191 L525,192 L520,205 L514,197Z M470,300 L480,296 L490,297 L500,293 L510,295 L521,295 L530,303 L540,305 L531,310 L529,321 L520,325 L510,325 L500,322 L490,321 L480,320 L472,311Z M455,265 L464,267 L474,263 L483,270 L492,268 L502,268 L511,271 L521,266 L530,268"/>
<path transform="translate(235,308) scale(0.143885)" fill="none" fill-rule="evenodd" stroke-width="10.43" d="M560,190 L566,183 L573,177 L583,176 L590,170 L600,167 L610,169 L620,164 L630,170 L640,165 L649,166 L658,162 L667,159 L677,164 L686,164 L695,160 M560,190 L566,198 L573,205 L575,215 L564,223 L560,235 L569,241 L580,241 L590,245 L599,240 L610,244 L620,240 L629,247 L641,245 L650,250 L659,248 L668,251 L677,249 L686,249 L695,245 M570,260 L580,262 L590,260 L600,267 L610,265 L619,270 L629,273 L640,271 L650,275 L659,274 L668,281 L677,281 L686,276 L695,280 M575,285 L585,284 L594,286 L602,292 L611,291 L620,295 L630,294 L640,298 L650,302 L660,300 L672,302 L684,300 L695,305 M560,215 L571,215 L580,218 L590,221 L600,225 L610,221 L620,219 L630,220 L640,220 L645,212 L652,205 L660,200 L671,195 L683,197 L695,195 M580,300 L585,308 L594,312 L600,320 M610,170 L621,171 L630,177 L641,178 L650,185 L659,192 L665,200 L670,210 L662,221 L660,235 M640,165 L652,167 L660,175 L672,176 L684,173 L695,178"/>
<path transform="translate(235,308) scale(0.143885)" fill="none" fill-rule="evenodd" stroke-width="13.21" d="M150,430 L161,430 L169,421 L180,420 L190,417 L200,418 L210,424 L220,422 L230,426 L240,428 L250,425 L246,435 L245,445 L233,442 L222,440 L210,440 L200,448 L190,455 L178,450 L165,445 L155,440Z M180,432 L189,428 L198,435 L207,434 L216,436 L225,432 M230,520 L240,519 L250,515 L260,512 L269,504 L281,503 L290,495 L300,496 L310,500 L320,501 L330,500 L340,500 L350,497 L360,496 L370,491 L380,490 L369,493 L360,500 L350,505 L340,509 L328,512 L320,520 L309,519 L300,522 L290,525 L280,524 L270,527 L260,525 L250,521 L240,522Z M350,560 L360,555 L371,555 L380,548 L390,548 L400,550 L410,545 L420,548 L409,551 L400,558 L388,557 L376,562 L365,565Z"/>
<path transform="translate(235,308) scale(0.143885)" fill="#430a4b" fill-rule="evenodd" stroke-width="9.38" d="M482,482 L494,480 L496,494 L484,498Z M470,600 L480,575 L486,590Z M456,648 L464,645 L462,656Z"/>
<path transform="translate(235,308) scale(0.143885)" fill="none" fill-rule="evenodd" stroke-width="11.12" d="M150,598 L157,603 L165,605 L172,609 L180,612 L190,605 M235,668 L242,673 L250,675 L255,690"/>
<path transform="translate(235,308) scale(0.143885)" fill="none" fill-rule="evenodd" stroke-width="9.38" d="M695,430 L687,436 L679,440 L669,442 L660,445 L652,455 L640,460 L630,464 L621,470 L610,470 L621,476 L632,482 L624,486 L617,492 L607,493 L600,500 L598,512 L587,518 L585,530 L583,543 L580,555 L592,560 L600,570 L608,579 L615,590 L627,591 L639,589 L650,595 L658,600 L668,603 L677,606 L686,610 L695,612 M600,340 L610,344 L620,342 L630,344 L640,345 L648,339 L650,330 M640,400 L649,402 L658,396 L667,394 L677,400 L686,397 L695,395 M610,440 L619,434 L629,432 L640,432 L649,432 L658,434 L668,434 L677,436 L686,439 L695,440"/>
<path transform="translate(235,308) scale(0.143885)" fill="none" fill-rule="evenodd" stroke-width="10.43" d="M500,640 L511,634 L520,625 L529,628 L538,633 L545,640 L549,650 L550,661 L555,670 L558,680 L556,690 L560,700 L548,694 L535,690 L528,683 L522,676 L515,670 L510,660 L505,650Z M520,650 L523,661 L529,670 L535,680 L540,693 L545,705 M495,655 L500,663 L502,672 L505,681 L505,690 L511,699 L520,705 M585,600 L575,603 L569,611 L560,615 L551,621 L545,630"/>
<path transform="translate(235,308) scale(0.143885)" fill="#430a4b" fill-rule="evenodd" stroke-width="9.38" d="M0,545 L7,557 L20,560 L29,565 L30,577 L38,583 L45,590 L47,602 L57,608 L64,616 L70,625 L80,631 L83,642 L84,654 L95,660 L98,672 L112,673 L115,685 L125,690 L136,695 L141,705 L150,712 L140,713 L130,715 L120,713 L110,709 L100,712 L97,703 L88,697 L81,690 L80,680 L69,676 L71,662 L61,657 L55,650 L50,641 L44,633 L36,626 L35,615 L24,609 L22,594 L10,590 L0,580 L-1,568 L0,557Z M38,532 L46,538 L42,548Z M50,640 L57,652 L70,655 L73,665 L78,675 L68,675 L60,668 L52,660 L50,651Z"/>
<path transform="translate(510,355) scale(0.093747)" fill="none" fill-rule="evenodd" stroke-width="14.40" d="M60,590 L70,580 L82,572 L90,560 L103,549 L120,545 L129,535 L142,531 L150,520 L166,514 L180,505 L200,500 L215,490 L230,480 M320,470 L334,478 L345,490 L357,484 L370,480 L385,480 L400,475 L413,473 L426,468 L440,470 L453,473 L467,467 L480,470 L500,465"/>
<path transform="translate(510,355) scale(0.093747)" fill="none" fill-rule="evenodd" stroke-width="14.40" d="M500,465 L511,469 L520,475 L533,475 L545,480 L552,493 L548,508 L555,520 L556,533 L556,547 L560,560 L562,575 L565,590 M500,465 L509,454 L520,445 L532,434 L540,420 L551,408 L560,395 L555,381 L545,370 L554,358 L560,345 L574,345 L587,338 L600,335 L612,330 L625,329 L638,333 L650,330 L662,324 L675,327 L688,324 L700,320 L708,310 L722,309 L730,300 L717,306 L703,300 L690,305 L677,303 L665,311 L652,308 L640,312 L627,311 L615,319 L602,315 L590,318 L579,324 L566,319 L555,325 L543,316 L530,310 L530,293 L520,280 L521,264 L530,250 L537,240 L548,234 L555,225 L563,213 L570,200 L556,192 L545,180 L531,184 L520,195 L508,199 L501,210 L490,215 L480,226 L466,230 L455,240 L446,249 L434,255 L425,265 L420,277 L416,289 L410,300 L420,313 L420,330 L418,346 L410,360 L405,370 L398,379 L395,390 L398,405 L400,420 L390,431 L385,445 L375,453 L363,459 L355,470 L346,459 L335,450 L326,441 L320,430 L312,422 L306,412 L305,400 L303,384 L310,370 L308,354 L300,340 L286,344 L275,355 L261,363 L250,375 L236,384 L220,385 L206,378 L190,375 L179,369 L176,356 L165,350 L163,336 L161,323 L155,310 L154,297 L151,283 L150,270 L160,262 L167,253 L170,240 L182,233 L196,229 L210,225 L221,222 L231,217 L240,209 L250,205 L260,196 L273,192 L280,180 L288,168 L298,158 L310,150 L319,142 L323,131 L336,126 L340,115 L349,107 L362,106 L369,95 L380,90 L395,89 L408,82 L420,75 L433,73 L444,65 L457,61 L470,60 L481,52 L494,49 L508,50 L520,45 L532,38 L544,37 L558,38 L570,35 L582,30 L595,31 L607,29 L620,30 L632,34 L645,30 L655,41 L668,39 L680,40 L693,47 L706,50 L720,55 L733,58 L746,66 L760,65 L772,72 L786,75 L800,75 L813,73 L825,81 L837,87 L850,85 L862,90 L875,93 L887,98 L900,100 L912,104 L919,114 L928,121 L940,125 L947,137 L945,150 L932,157 L920,165 L908,163 L895,164 L883,159 L870,160 L858,153 L846,151 L832,154 L820,150 L806,152 L794,143 L780,145 L768,146 L756,145 L745,150 L755,161 L770,165 L780,175 L789,188 L800,200 L799,214 L790,226 L790,240 L793,251 L802,259 L805,270 L810,280 L820,286 L830,290 L831,276 L834,263 L840,250 L836,237 L829,224 L830,210 L840,200 L850,190 L862,198 L876,200 L890,200 L898,190 L912,189 L920,180 L931,175 L941,168 L950,160 L961,151 L975,150"/>
<path transform="translate(510,355) scale(0.093747)" fill="none" fill-rule="evenodd" stroke-width="14.40" d="M300,340 L303,320 L305,300 L300,280 L300,260 L305,246 L312,233 L320,220 L330,207 L338,194 L345,180 L359,167 L370,150 L378,138 L390,130 L400,120 L412,111 L426,105 L440,100 L453,95 L466,87 L480,85 L500,78 L520,75 L534,71 L547,65 L560,60 L580,53 L600,50 M545,180 L543,160 L540,140 L537,120 L530,100 L520,75 M690,50 L696,66 L695,84 L700,100 L696,116 L694,134 L690,150 L699,166 L701,184 L710,200 L716,215 L722,229 L727,244 L730,260 L728,280 L730,300 M180,505 L182,523 L185,540 L181,556 L180,573 L180,590 M345,490 L350,510 L355,530 L351,545 L353,560 L351,575 L350,590 M150,520 L143,540 L140,560 L129,575 L120,590 M230,480 L230,500 L235,520 L251,525 L267,531 L285,532 L300,540 L317,540 L333,542 L350,545 M400,475 L406,489 L408,505 L410,520 L422,532 L431,546 L440,560 L455,568 L470,574 L485,582 L500,590"/>
<path transform="translate(510,355) scale(0.093747)" fill="none" fill-rule="evenodd" stroke-width="25.60" d="M215,415 L218,405 L230,403 L235,395 L244,390 L255,391 L265,390 L274,399 L285,405 L287,415 L295,421 L300,430 L307,437 L317,440 L320,450 L314,457 L308,464 L300,470 L289,470 L280,476 L270,480 L260,476 L250,477 L240,475 L232,468 L233,457 L225,450 L226,440 L219,433 L214,425Z"/>
<path transform="translate(510,355) scale(0.093747)" fill="#430a4b" fill-rule="evenodd" stroke-width="14.40" d="M255,430 L264,433 L273,437 L281,441 L290,445 L289,454 L287,462 L285,470 L275,471 L265,473 L255,470 L255,462 L252,454 L253,446 L254,438Z M150,275 L161,275 L170,270 L171,278 L171,287 L170,295 L171,304 L174,312 L175,320 L168,326 L160,330 L158,321 L156,312 L158,302 L151,294 L151,284Z"/>
<path transform="translate(510,355) scale(0.093747)" fill="none" fill-rule="evenodd" stroke-width="19.20" d="M600,255 L610,252 L620,250 L631,251 L640,245 L651,246 L661,250 L672,252 L680,260 L687,269 L691,278 L690,290 L685,298 L675,301 L665,303 L660,312 L650,310 L640,313 L630,313 L620,312 L613,303 L602,299 L595,290 L592,278 L602,267Z M615,270 L627,269 L638,263 L650,265 L661,272 L665,285 L659,293 L646,290 L640,298 L628,299 L618,292 L618,281Z M700,250 L708,259 L722,256 L731,264 L740,270 L744,280 L743,291 L750,300 L741,306 L731,309 L720,310 M580,240 L592,245 L600,255 M690,235 L689,245 L679,249 L675,258"/>
<path transform="translate(510,355) scale(0.093747)" fill="#430a4b" fill-rule="evenodd" stroke-width="14.40" d="M862,345 L878,342 L880,360 L864,362Z M898,330 L910,328 L912,342 L900,344Z M696,558 L708,558 L708,570 L696,570Z M0,318 L10,316 L10,326 L0,328Z"/>
<path transform="translate(510,355) scale(0.093747)" fill="none" fill-rule="evenodd" stroke-width="14.40" d="M0,470 L8,479 L13,490 L20,500 L20,511 L16,520 L15,531 L10,540 L19,548 L24,559 L30,570 L27,581 L20,590 M60,590 L67,579 L75,570 L69,557 L60,545 M100,540 L103,529 L111,520 L113,509 L120,500 L131,498 L140,495 L150,490 L159,499 L165,510 L158,519 L154,529 L150,540 L141,549 L130,554 L120,560"/>
<path transform="translate(510,355) scale(0.093747)" fill="none" fill-rule="evenodd" stroke-width="12.80" d="M130,545 L141,542 L150,534 L160,530 L173,525 L185,520 L185,530 L190,538 L190,548 L182,554 L173,559 L165,565 L152,568 L140,575 L134,566 L131,556Z"/>
<path transform="translate(595,308) scale(0.143885)" fill="none" fill-rule="evenodd" stroke-width="9.38" d="M-60,380 L-50,384 L-39,385 L-31,393 L-20,395 L-9,395 L0,400 L8,405 L12,415 L25,411 L30,420 L36,413 L46,412 L50,401 L60,400 L71,399 L79,410 L90,410 L101,408 L104,396 L110,388 L120,385 L129,392 L140,386 L150,390 L160,393 L170,395 L180,395 L190,394 L201,395 L211,393 L220,385 L230,389 L240,391 L250,392 L260,390 L271,387 L280,379 L290,375 L301,373 L310,376 L320,380 L329,386 L340,385 L351,379 L360,385 L371,389 L380,380 L390,384 L400,380 L403,370 L404,359 L410,350 L414,341 L424,337 L430,330 L440,327 L450,328 L460,325 L463,336 L470,345 L482,343 L492,339 L500,330 L510,328 L522,329 L530,320 L540,325 L548,334 L560,335 L570,340 L580,341 L591,334 L600,340 L606,349 L613,357 L620,365 L613,358 L613,348 L613,339 L610,330 L613,318 L621,311 L633,308 L640,300 L650,296 L662,299 L670,290 L679,296 L689,297 L700,295"/>
<path transform="translate(595,308) scale(0.143885)" fill="none" fill-rule="evenodd" stroke-width="9.38" d="M520,380 L528,385 L533,393 L540,400 L549,405 L552,415 L560,420 M440,400 L449,403 L455,410 L461,418 L470,420 L463,428 L455,435 M0,440 L2,452 L10,460 L-1,463 L-10,470 M45,580 L50,590 L55,600 M235,545 L236,557 L238,568 L240,580 M90,700 L94,689 L100,680 L110,678 L115,669 L125,668 L130,660 L135,651 L131,639 L136,630 L140,620 L150,615 L160,610 M590,640 L600,639 L607,632 L617,632 L625,628 M600,330 L608,334 L614,342 L621,348 L630,350 L625,359 L626,371 L620,380 M665,300 L672,308 L682,313 L690,320 L682,331 L680,345 M360,385 L370,390 L379,398 L390,400 L401,402 L410,399 L420,395 M100,410 L93,416 L88,424 L84,432 L80,440 L71,446 L59,443 L50,450 L40,445 L30,440"/>
<path transform="translate(595,308) scale(0.143885)" fill="none" fill-rule="evenodd" stroke-width="13.90" d="M75,188 L85,191 L95,185 L105,189 L115,187 L125,190 L135,186 L145,189 L155,184 L165,186 M210,184 L220,187 L230,183 L240,181 L250,182 L260,184 L270,180 L280,182 L290,179 L300,182 L310,180 L320,181 L330,182 L340,183 L350,187 L360,186 M525,205 L540,205"/>
<path transform="translate(585,320) scale(0.093747)" fill="none" fill-rule="evenodd" stroke-width="18.13" d="M370,390 L381,377 L392,365 L400,350 L412,340 L426,331 L440,323 L450,310 L464,305 L479,302 L493,297 L507,293 L520,285 L536,279 L552,278 L568,283 L584,279 L600,275 L616,271 L632,272 L648,265 L664,263 L680,262 L695,260 L710,256 L725,254 L740,255 L745,270 L729,273 L713,276 L698,281 L681,282 L665,283 L650,290 L636,297 L620,298 L606,303 L590,302 L575,307 L560,310 L546,317 L533,326 L517,329 L503,336 L490,345 L477,357 L462,366 L450,380 L462,390 L471,403 L480,415 L465,410 L450,415 L435,414 L420,410 L402,407 L387,395Z M400,365 L415,357 L425,342 L440,335 L455,329 L470,322 L484,315 L500,310 L513,304 L528,302 L541,296 L557,299 L570,292 L584,287 L598,287 L612,286 L626,284 L640,280"/>
<path transform="translate(685,308) scale(0.143885)" fill="none" fill-rule="evenodd" stroke-width="9.38" d="M-10,300 L-0,296 L10,297 L20,292 L31,295 L40,290 L50,282 L60,275 L70,272 L81,276 L90,270 L100,272 L110,271 L120,268 L130,265 L139,258 L150,256 L159,251 L170,250 L179,256 L192,252 L200,260 L209,268 L221,267 L230,275 L238,282 L242,292 L250,300 L261,298 L270,293 L280,290 L290,293 L300,295 L307,301 L314,306 L325,307 L330,315 L339,308 L348,301 L360,300 L370,297 L379,291 L390,290 L395,282 L402,275 L410,270 L414,283 L425,290 L430,299 L424,311 L430,320 L441,321 L449,312 L461,316 L470,310 L480,308 L490,314 L500,310 L510,315 L520,314 L530,317 L540,318 L550,320 L561,320 L570,315 L580,310 L591,307 L600,313 L611,310 L620,315 L629,317 L636,324 L644,328 L650,335 L660,339 L668,346 L680,345 L689,350 L700,350 L710,352"/>
<path transform="translate(685,308) scale(0.143885)" fill="none" fill-rule="evenodd" stroke-width="12.51" d="M110,185 L119,186 L128,189 L136,193 L146,189 L155,190 L164,196 L173,195 L182,195 L191,197 L200,200 L210,201 L219,202 L226,211 L235,216 L244,217 L253,220 L264,219 L272,223 L282,223 L290,230 L299,237 L311,236 L321,240 L328,251 L340,250 M130,200 L139,200 L147,209 L156,206 L165,210 L174,210 L184,206 L192,214 L202,210 L210,215 L219,218 L229,218 L238,221 L246,229 L256,228 L263,236 L270,245 L280,245 M160,185 L169,192 L180,187 L191,185 L200,189 L211,187 L220,190 L230,195 L238,199 L247,201 L258,197 L265,205 L274,207 L283,209 L292,208 L300,215 M180,240 L190,241 L201,240 L209,250 L220,252 L230,254 L240,255 L246,262 L245,273 L256,277 L260,285 M310,320 L317,314 L327,313 L337,316 L343,305 L354,309 L363,308 L370,300 L379,306 L390,304 L400,305 L409,312 L420,310"/>
<path transform="translate(685,308) scale(0.143885)" fill="none" fill-rule="evenodd" stroke-width="9.38" d="M40,290 L41,301 L49,309 L50,320 M0,340 L8,352 M290,690 L302,686 L309,675 L320,670 L327,662 L337,657 L342,647 L350,640 L358,632 L365,622 L375,615 L367,626 L362,637 L360,650 L354,659 L347,667 L338,673 L330,680 L320,685 L309,689 L300,695 M260,605 L271,612 L280,620 L278,630 L279,640 L275,650 M200,690 L209,685 L219,681 L230,680 L242,684 L253,687 L265,690 L257,697 L250,705 L240,702 L230,706 L220,706 L210,705Z M100,625 L110,630 L119,637 L130,640 M525,712 L525,701 L526,691 L528,680 L530,670 L541,664 L549,656 L560,650 L570,649 L580,654 L590,654 L600,655 L606,664 L615,671 L620,680 L625,690 L630,700 L630,712 M100,620 L111,629 L120,640 L115,649 L115,660"/>
<path transform="translate(775,308) scale(0.143740)" fill="none" fill-rule="evenodd" stroke-width="9.39" d="M-10,318 L-1,325 L11,324 L20,330 L30,335 L41,337 L50,345 L61,347 L70,339 L80,340 L91,334 L100,327 L110,320 L121,315 L130,306 L140,300 L150,296 L160,293 L170,290 L181,290 L190,295 L200,300 L215,310 L228,316 L240,325 L250,329 L260,328 L270,330 L281,328 L291,330 L300,335 L310,338 L319,346 L331,343 L340,350 L350,350 L360,352 L370,347 L380,350 L390,352 L400,352 L410,351 L420,348 L431,347 L439,355 L450,351 L460,355 L465,366 L471,376 L480,385 L490,380 L500,375 L510,376 L520,376 L530,375 L540,372 L550,372 L559,379 L570,377 L580,378 L590,379 L601,380 L610,385 L621,383 L632,380 L640,372 L650,376 L660,375 L670,376 L680,375 L690,375 L700,374 L710,381 L720,378 L730,378 L740,374 L750,372"/>
<path transform="translate(775,308) scale(0.143740)" fill="none" fill-rule="evenodd" stroke-width="10.44" d="M115,268 L121,278 L124,290 L130,300 M140,267 L149,262 L160,262 L169,267 L180,266 L171,272 L165,280 L154,271Z M225,272 L237,269 L248,268 L260,268 M280,281 L291,279 L302,280 L313,279 L324,284 L335,283 M680,465 L690,459 L700,455 L712,459 L725,460 L734,469 L745,475 M200,300 L208,312 L215,325 L203,329 L190,330"/>
<path transform="translate(775,308) scale(0.143740)" fill="none" fill-rule="evenodd" stroke-width="9.39" d="M115,630 L121,621 L132,617 L140,610 L152,607 L159,596 L170,590 L178,583 L185,575 L195,570 L203,563 L210,555 L220,553 L231,554 L240,549 L250,545 L260,544 L270,545 L280,548 L290,549 L300,548 L310,545 L320,549 L330,546 L340,548 L350,545 L359,540 L370,540 L380,540 L388,530 L400,526 L410,520 L419,515 L430,512 L440,510 L450,509 L460,516 L470,515 L480,513 L490,507 L500,505 L510,502 L519,496 L530,495 L545,498 L534,503 L526,510 L520,520 L510,528 L502,539 L490,545 L478,547 L471,557 L460,560 L452,570 L440,574 L430,580 L426,590 L417,599 L415,610 L416,620 L415,631 L410,640 L412,650 L417,659 L415,670 L416,680 L420,690 L430,687 L440,685 L450,678 L458,670 L461,657 L470,650 L479,641 L483,630 L490,620 L497,611 L493,599 L500,590 L503,580 L510,571 L510,560 L518,550 L530,545 L540,542 L550,540 L560,540 L570,536 L581,539 L589,530 L600,530 L611,529 L619,521 L631,522 L640,515 L649,509 L659,505 L671,507 L680,500 L690,495 L700,499 L710,494 L720,495 L730,494 L740,490 L750,490"/>
<path transform="translate(775,308) scale(0.143740)" fill="none" fill-rule="evenodd" stroke-width="9.39" d="M115,630 L130,642 L140,637 L150,635 L144,643 L138,652 L120,645Z M190,712 L192,702 L194,691 L197,681 L198,670 L200,660 L205,650 L210,640 L219,649 L225,660 L229,670 L230,681 L229,692 L236,701 L235,712"/>
<path transform="translate(775,308) scale(0.143740)" fill="#430a4b" fill-rule="evenodd" stroke-width="9.39" d="M735,345 L750,343 L750,360 L737,358Z M546,620 L556,622 L554,634 L546,630Z M648,658 L658,660 L654,668Z M128,625 L146,628 L140,640Z"/>
<path transform="translate(525,325) scale(0.062500)" fill="none" fill-rule="evenodd" stroke-width="24.00" d="M165,195 L182,190 L199,189 L216,188 L234,188 L250,180 L267,178 L283,179 L300,177 L317,178 L333,181 L350,182 L367,180 L383,180 L400,175 L417,167 L434,165 L453,168 L470,160 L488,162 L506,158 L524,164 L542,168 L560,165 L576,162 L592,164 L609,162 L625,170 L641,162 L658,163 L674,161 L690,165 L700,190 L685,200 L668,208 L650,210 L635,217 L618,214 L602,218 L586,219 L570,220 L582,232 L596,241 L606,256 L620,265 L612,279 L600,290 L580,292 L560,295 L540,295 L521,280 L500,270 L480,264 L459,259 L440,250 L419,251 L400,260 L383,270 L371,286 L354,296 L340,310 L320,303 L299,301 L280,290 L263,282 L251,269 L232,264 L220,250 L201,242 L185,229 L170,215Z M232,216 L251,215 L270,214 L268,236 L251,241 L234,236Z M580,180 L598,185 L615,185 L632,183 L650,180 L648,196 L632,192 L615,192 L598,193 L582,196Z M430,215 L455,215 L455,240 L430,238Z"/>
<path transform="translate(525,325) scale(0.062500)" fill="none" fill-rule="evenodd" stroke-width="35.20" d="M250,195 L265,195 L280,194 L295,194 L310,192 L325,196 L340,189 L355,191 L370,194 L385,192 L400,190 L417,192 L432,184 L448,183 L464,180 L480,180 L496,177 L512,178 L528,183 L544,182 L560,185 M400,200 L414,204 L427,211 L441,214 L455,215 L470,215 L484,216 L498,220 L511,228 L527,224 L540,230 L550,243 L567,248 L578,260 L590,270 M480,200 L490,213 L496,228 L508,239 L520,250 M300,220 L305,234 L317,243 L325,255 L329,270 L340,280 M560,200 L576,200 L592,200 L608,193 L624,192 L640,195"/>
<path transform="translate(440,325) scale(0.120963)" fill="none" fill-rule="evenodd" stroke-width="12.40" d="M130,250 L139,243 L148,238 L161,241 L170,235 L179,234 L188,233 L197,227 L206,226 L215,225 L222,233 L231,236 L242,234 L250,240 L250,249 L250,259 L240,265 L240,275 L232,284 L219,280 L208,281 L200,290 L189,288 L180,296 L169,294 L160,300 L149,302 L141,292 L129,296 L120,290 L125,281 L119,269 L128,260Z M150,255 L161,259 L170,250 L180,247 L190,250 L200,250 L211,249 L219,253 L225,262 L216,264 L205,263 L197,266 L190,275 L180,272 L170,277 L160,274 L150,278 L153,266Z"/>
<path transform="translate(440,325) scale(0.120963)" fill="none" fill-rule="evenodd" stroke-width="13.23" d="M235,130 L241,121 L251,117 L262,117 L270,110 L280,112 L282,124 L290,128 L300,130 L295,138 L295,148 L289,155 L290,165 L298,172 L299,182 L305,190 L297,198 L288,203 L276,204 L270,215 L260,213 L255,202 L245,200 L251,191 L247,178 L255,170 L252,156 L240,150 L237,140Z M250,90 L260,88 L269,83 L280,83 L290,80 L290,92 L300,100 M255,175 L264,176 L272,183 L280,186 L290,185"/>
<path transform="translate(440,325) scale(0.120963)" fill="none" fill-rule="evenodd" stroke-width="16.53" d="M60,40 L70,41 L80,43 L90,44 L100,46 L110,49 L120,48 L130,52 L140,51 L150,52 L160,51 L170,51 L180,52 L190,56 L199,59 L210,57 L220,59 L230,60 M100,60 L110,58 L120,66 L130,65 L140,66 L150,64 L160,68 L169,69 L178,70 L188,66 L197,69 L206,72 L215,70"/>
<path transform="translate(380,325) scale(0.156250)" fill="none" fill-rule="evenodd" stroke-width="12.80" d="M-35,34 L-26,37 L-18,31 L-9,30 L0,28 L8,27 L17,26 L25,29 L34,28 L42,28 L50,33 L59,30 L67,30 L75,36 L84,33 L92,38 L100,38 L108,35 L117,39 L125,35 L133,35 L141,31 L151,33 L160,36 L170,38 L180,35 L190,38 L197,28 L206,28 L215,26 L223,24 L233,28 L242,28 L250,22 L259,17 L267,18 L276,25 L285,16 L294,15 L303,23 L311,16 L320,18 L328,12 L337,17 L345,12 L354,13 L363,12 L372,16 L380,12 L389,17 L397,17 L406,13 L415,18 L424,16 L432,15 L441,16 L450,15 L459,17 L467,20 L476,14 L485,22 L494,22 L502,20 L511,19 L520,20 L529,20 L536,28 L545,24 L554,22 L561,33 L570,30 L578,34 L587,35 L596,33 L604,39 L610,47 L620,45 L629,49 L638,41 L646,43 L655,50 L664,47 L672,45 L681,41 L690,45"/>
<path transform="translate(325,340) scale(0.104167)" fill="#430a4b" fill-rule="evenodd" stroke-width="5.76" d="M735,160 L746,158 L756,152 L769,159 L779,154 L790,150 L795,159 L798,169 L812,171 L811,184 L820,190 L824,200 L825,210 L825,220 L821,230 L825,240 L810,243 L800,255 L791,248 L779,247 L770,240 L760,234 L755,225 L750,215 L740,207 L735,195 L735,183 L735,172Z M765,185 L775,180 L785,182 L795,185 L793,198 L800,210 L790,208 L780,216 L770,212 L772,198Z M760,262 L771,261 L782,259 L793,263 L804,261 L815,258 L819,268 L824,279 L826,290 L830,300 L825,311 L826,323 L828,335 L815,342 L800,340 L787,334 L782,321 L775,310 L765,302 L758,290 L762,276Z M780,280 L794,281 L808,280 L814,292 L812,305 L799,306 L786,305 L784,292Z"/>
<path transform="translate(325,340) scale(0.104167)" fill="none" fill-rule="evenodd" stroke-width="19.20" d="M800,340 L810,346 L813,357 L820,365 L828,372 L832,383 L842,388 L850,395 L860,402 L868,412 L880,415 L891,418 L898,428 L910,429 L920,435 L930,439 L939,445 L949,445 L960,445"/>
<path transform="translate(325,340) scale(0.104167)" fill="none" fill-rule="evenodd" stroke-width="14.40" d="M225,125 L233,128 L241,132 L251,130 L256,143 L265,143 L274,146 L284,144 L290,153 L300,150 L306,158 L315,159 L327,155 L332,165 L335,177 L346,174 L355,175 L361,183 L370,185 L380,183 L386,190 L390,201 L400,200 L408,202 L411,215 L422,212 L430,215 L438,219 L448,217 L451,229 L459,232 L468,233 L469,247 L480,245 L487,251 L495,253 L500,262 L511,258 L514,271 L524,270 L533,269 L540,275 L549,277 L554,289 L565,285 L577,278 L581,295 L592,291 L600,295"/>
<path transform="translate(325,340) scale(0.104167)" fill="none" fill-rule="evenodd" stroke-width="17.28" d="M430,190 L439,183 L449,181 L460,182 L470,180 L478,187 L477,199 L489,204 L490,215 L482,220 L476,226 L466,227 L460,235 M500,240 L509,234 L520,233 L530,231 L540,230 L549,236 L559,243 L563,254 L570,262 M560,280 L568,274 L578,276 L585,268 L595,270 L595,280 L592,290 L590,300 M330,150 L341,151 L349,141 L359,139 L370,140 L374,149 L386,152 L386,165 L395,170"/>
<path transform="translate(325,340) scale(0.104167)" fill="none" fill-rule="evenodd" stroke-width="14.40" d="M100,295 L111,298 L120,291 L129,286 L141,292 L150,285 L159,287 L167,294 L178,290 L187,294 L195,300 L188,307 L187,317 L192,328 L185,335 L176,337 L167,340 L159,344 L150,347 L140,345 L131,343 L121,341 L113,337 L105,330 L107,318 L100,307Z M270,305 L280,302 L290,302 L300,298 L310,305 L320,300 L330,304 L339,309 L348,316 L360,315 L358,327 L349,335 L345,345 L336,346 L327,344 L318,347 L309,350 L300,350 L290,348 L284,340 L275,335 L276,325 L276,314Z M380,290 L390,288 L400,288 L410,289 L420,285 L427,293 L434,301 L440,310 L429,313 L418,317 L410,325 M455,300 L464,302 L473,302 L482,294 L491,296 L500,295 L509,302 L506,315 L517,320 L520,330 L512,335 L504,338 L498,345 L490,350 L480,347 L470,344 L460,340 M150,350 L158,356 L166,361 L175,365 L168,374 L165,385 M200,355 L210,360 L220,364 L230,370 M225,385 L237,387 L245,395"/>
<path transform="translate(325,340) scale(0.104167)" fill="none" fill-rule="evenodd" stroke-width="15.36" d="M490,565 L499,571 L511,570 L520,575 L533,573 L545,568 L538,580 L530,590 M600,640 L611,636 L620,629 L630,626 L640,620 L650,624 L661,625 L670,632 L680,635 M350,650 L362,643 L375,640 M450,628 L462,626 L462,638 L462,650 L450,650 L452,639Z M230,520 L241,519 L252,518 L262,515 L263,525 L262,535 L262,545 L253,548 L244,547 L235,548 L231,539 L234,529Z"/>
</g>
</g>
<g stroke="#430a4b" stroke-width="1.4" fill="none" stroke-linecap="square">
<path d="M144 311.6 H883.2 V410.35 H144 Z"/>
<path d="M328.8 311.6 V410.35 M513.5 311.6 V410.35 M698.2 334 V410.35" stroke-linecap="butt"/>
</g>
<path d="M139.8 311.60 H143.4 M139.8 323.94 H143.4 M139.8 336.29 H143.4 M139.8 348.63 H143.4 M139.8 360.98 H143.4 M139.8 373.32 H143.4 M139.8 385.66 H143.4 M139.8 398.01 H143.4 M139.8 410.35 H143.4 M144.20 410.95 V414.9 M267.37 410.95 V414.9 M390.53 410.95 V414.9 M513.70 410.95 V414.9 M636.87 410.95 V414.9 M760.03 410.95 V414.9 M883.20 410.95 V414.9 " stroke="#4a4a4a" stroke-width="0.9" fill="none"/>
<g font-size="14.2">
<text x="113.2" y="316.60" textLength="22.2" lengthAdjust="spacingAndGlyphs">90N</text>
<text x="113.2" y="328.94" textLength="22.2" lengthAdjust="spacingAndGlyphs">85N</text>
<text x="113.2" y="341.29" textLength="22.2" lengthAdjust="spacingAndGlyphs">80N</text>
<text x="113.2" y="353.63" textLength="22.2" lengthAdjust="spacingAndGlyphs">75N</text>
<text x="113.2" y="365.98" textLength="22.2" lengthAdjust="spacingAndGlyphs">70N</text>
<text x="113.2" y="378.32" textLength="22.2" lengthAdjust="spacingAndGlyphs">65N</text>
<text x="113.2" y="390.66" textLength="22.2" lengthAdjust="spacingAndGlyphs">60N</text>
<text x="113.2" y="403.01" textLength="22.2" lengthAdjust="spacingAndGlyphs">55N</text>
<text x="113.2" y="415.35" textLength="22.2" lengthAdjust="spacingAndGlyphs">50N</text>
<text x="133.70" y="427.7" textLength="21.2" lengthAdjust="spacingAndGlyphs">180</text>
<text x="252.47" y="427.7" textLength="30" lengthAdjust="spacingAndGlyphs">120W</text>
<text x="379.38" y="427.7" textLength="22.5" lengthAdjust="spacingAndGlyphs">60W</text>
<text x="510.50" y="427.7" textLength="6.6" lengthAdjust="spacingAndGlyphs">0</text>
<text x="626.22" y="427.7" textLength="21.5" lengthAdjust="spacingAndGlyphs">60E</text>
<text x="745.63" y="427.7" textLength="29" lengthAdjust="spacingAndGlyphs">120E</text>
<text x="872.70" y="427.7" textLength="21.2" lengthAdjust="spacingAndGlyphs">180</text>
</g>
<text y="271.7" font-size="17.2"><tspan x="381.5" textLength="39.0" lengthAdjust="spacingAndGlyphs">NOAA</tspan> <tspan x="432.0" textLength="71.9" lengthAdjust="spacingAndGlyphs">Extended</tspan> <tspan x="514.7" textLength="27.9" lengthAdjust="spacingAndGlyphs">SST</tspan> <tspan x="553.0" textLength="20.0" lengthAdjust="spacingAndGlyphs">V5</tspan> <tspan x="584.2" textLength="61.8" lengthAdjust="spacingAndGlyphs">(ERSST)</tspan></text>
<text y="296.7" font-size="17.2"><tspan x="280.4" textLength="60.4" lengthAdjust="spacing">Surface</tspan> <tspan x="352.8" textLength="27.9" lengthAdjust="spacingAndGlyphs">SST</tspan> <tspan x="391.1" textLength="22.6" lengthAdjust="spacingAndGlyphs">(C)</tspan> <tspan x="426.2" textLength="83.4" lengthAdjust="spacing">Composite</tspan> <tspan x="520.4" textLength="66.4" lengthAdjust="spacingAndGlyphs">Anomaly</tspan> <tspan x="599.8" textLength="93.8" lengthAdjust="spacing">1981−2010</tspan> <tspan x="705.3" textLength="41.2" lengthAdjust="spacing">climo</tspan></text>
<text y="452.6" font-size="17.6"><tspan x="401.0" textLength="27.1" lengthAdjust="spacingAndGlyphs">Dec</tspan> <tspan x="440.7" textLength="15.1" lengthAdjust="spacing">to</tspan> <tspan x="466.0" textLength="33.0" lengthAdjust="spacingAndGlyphs">Feb:</tspan> <tspan x="508.3" textLength="40.9" lengthAdjust="spacing">2000</tspan> <tspan x="560.2" textLength="14.6" lengthAdjust="spacingAndGlyphs">to</tspan> <tspan x="586.5" textLength="40.0" lengthAdjust="spacing">2020</tspan></text>
<text y="325.5" font-size="14"><tspan x="640.5" textLength="29.0" lengthAdjust="spacingAndGlyphs">NOAA</tspan> <tspan x="677.6" textLength="53.2" lengthAdjust="spacing">Physical</tspan> <tspan x="740.1" textLength="58.1" lengthAdjust="spacing">Sciences</tspan> <tspan x="806.7" textLength="71.5" lengthAdjust="spacing">Laboratory</tspan></text>
<g fill="none" stroke="#000" stroke-width="5.5" stroke-linecap="round" stroke-linejoin="round">
<path d="M531 316.6 L570.5 371.3 M572.6 349.7 L570.5 371.3 L548.2 365.5"/>
<path d="M544 317 L590 319.3 L615 322.5 L640 326 L665 330.5 C675 332.5 685 336 686.5 342.5 C687.5 348 681 353 675.6 355.8 L652.6 368.4 L631 378.8 L610.8 389.3 M621.6 367 L610.8 389.3 L637.4 400.8"/>
<path d="M600 316 L640 319.2 L690 323.5 L740 327.8 L775 332.5 C788 334.5 803 338 805 344.5 C806 351 797 355 789 359 L757 373.5 L729.3 387.8 M738.5 368 L729.3 387.8 L751.2 396.8"/>

</g>
<g stroke="#1a1a1a" stroke-width="1.2" stroke-linejoin="miter">
<path d="M120 577 L96.5 586 L120 595 Z" fill="#4b004b"/>
<rect x="120" y="577" width="24" height="18" fill="#5a005a"/>
<rect x="144" y="577" width="24" height="18" fill="#780078"/>
<rect x="168" y="577" width="24" height="18" fill="#960096"/>
<rect x="192" y="577" width="24" height="18" fill="#b400b4"/>
<rect x="216" y="577" width="24" height="18" fill="#c800c8"/>
<rect x="240" y="577" width="24" height="18" fill="#9600c8"/>
<rect x="264" y="577" width="24" height="18" fill="#7800dc"/>
<rect x="288" y="577" width="24" height="18" fill="#5a0ae0"/>
<rect x="312" y="577" width="24" height="18" fill="#3200dc"/>
<rect x="336" y="577" width="24" height="18" fill="#0a32dc"/>
<rect x="360" y="577" width="24" height="18" fill="#0064c8"/>
<rect x="384" y="577" width="24" height="18" fill="#0096e0"/>
<rect x="408" y="577" width="24" height="18" fill="#00c0f0"/>
<rect x="432" y="577" width="24" height="18" fill="#00ffff"/>
<rect x="456" y="577" width="24" height="18" fill="#ffffff"/>
<rect x="480" y="577" width="24" height="18" fill="#ffffff"/>
<rect x="504" y="577" width="24" height="18" fill="#32dc00"/>
<rect x="528" y="577" width="24" height="18" fill="#64dc00"/>
<rect x="552" y="577" width="24" height="18" fill="#96dc00"/>
<rect x="576" y="577" width="24" height="18" fill="#c8dc00"/>
<rect x="600" y="577" width="24" height="18" fill="#dcdc00"/>
<rect x="624" y="577" width="24" height="18" fill="#ffe600"/>
<rect x="648" y="577" width="24" height="18" fill="#ffff00"/>
<rect x="672" y="577" width="24" height="18" fill="#ffdc00"/>
<rect x="696" y="577" width="24" height="18" fill="#ffc800"/>
<rect x="720" y="577" width="24" height="18" fill="#ffaa00"/>
<rect x="744" y="577" width="24" height="18" fill="#ff8c00"/>
<rect x="768" y="577" width="24" height="18" fill="#ff6400"/>
<rect x="792" y="577" width="24" height="18" fill="#ff3200"/>
<rect x="816" y="577" width="24" height="18" fill="#ff0000"/>
<path d="M840 577 L864 586 L840 595 Z" fill="#c80000"/>
</g>
<g font-size="15.6" text-anchor="middle" letter-spacing="2.3">
<text x="121.1" y="612">−1.5</text>
<text x="169.1" y="612">−1.3</text>
<text x="217.1" y="612">−1.1</text>
<text x="265.1" y="612">−0.9</text>
<text x="313.1" y="612">−0.7</text>
<text x="361.1" y="612">−0.5</text>
<text x="409.1" y="612">−0.3</text>
<text x="457.1" y="612">−0.1</text>
<text x="505.1" y="612">0.1</text>
<text x="553.1" y="612">0.3</text>
<text x="601.1" y="612">0.5</text>
<text x="649.1" y="612">0.7</text>
<text x="697.1" y="612">0.9</text>
<text x="745.1" y="612">1.1</text>
<text x="793.1" y="612">1.3</text>
<text x="841.1" y="612">1.5</text>
</g>
</svg></body></html>
